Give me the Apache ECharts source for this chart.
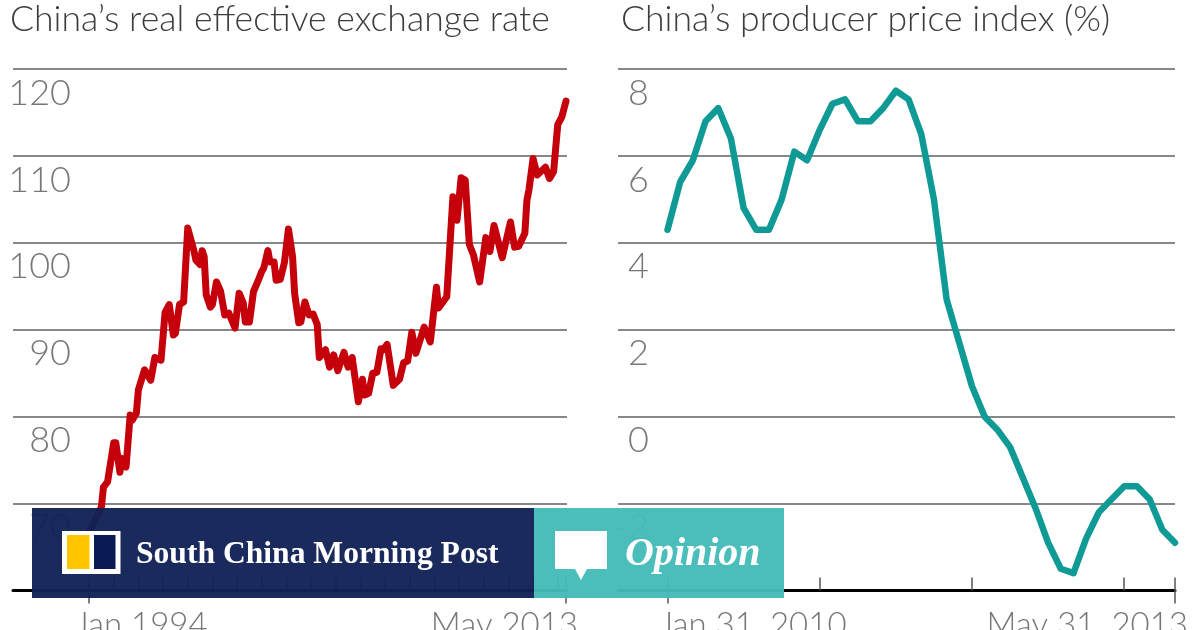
<!DOCTYPE html>
<html>
<head>
<meta charset="utf-8">
<style>
  html, body { margin: 0; padding: 0; background: #fff; }
  #chart { width: 1200px; height: 630px; }
</style>
<script src="https://cdn.jsdelivr.net/npm/echarts@6/dist/echarts.min.js"></script>
</head>
<body>
<div id="chart"></div>
<script>
// months since Jan 1994, only the turning points
const reerMonths = [0, 6, 7, 9, 12, 13, 15, 16, 18, 20, 21, 23, 24, 27, 30, 32, 35, 37, 39, 41, 42, 44, 46, 48, 51, 52, 54, 55, 56, 57, 59, 60, 62, 64, 66, 68, 71, 73, 75, 76, 78, 80, 82, 84, 85, 87, 88, 90, 91, 93, 95, 97, 99, 100, 102, 103, 105, 107, 109, 111, 112, 115, 117, 119, 121, 124, 126, 128, 131, 133, 134, 136, 138, 140, 142, 143, 145, 148, 151, 153, 155, 157, 159, 163, 166, 169, 170, 174, 177, 179, 181, 183, 185, 187, 190, 193, 195, 197, 201, 205, 207, 209, 212, 213, 214, 216, 218, 222, 224, 226, 228, 230, 232];
const reerValues = [66.7, 69.6, 71.9, 72.5, 77.0, 77.0, 73.6, 75.2, 74.2, 80.2, 79.6, 80.4, 83.1, 85.4, 84.2, 86.8, 86.5, 92.0, 92.9, 89.4, 89.6, 92.9, 93.2, 101.7, 99.1, 98.0, 97.5, 99.1, 98.4, 94.0, 92.6, 92.9, 95.5, 94.4, 91.7, 91.9, 90.2, 94.2, 93.1, 90.9, 90.9, 94.4, 95.5, 96.7, 97.1, 99.1, 97.8, 97.8, 95.7, 95.8, 97.7, 101.6, 98.4, 94.2, 90.8, 90.9, 93.2, 91.7, 91.8, 90.6, 86.8, 87.7, 85.7, 87.1, 85.3, 87.4, 85.7, 86.8, 81.7, 84.3, 82.5, 82.7, 85.0, 85.1, 87.8, 87.7, 88.3, 83.6, 84.3, 86.2, 86.4, 89.7, 87.3, 90.3, 88.6, 94.9, 92.5, 93.8, 105.3, 102.6, 107.5, 107.2, 99.8, 98.6, 95.5, 100.6, 99.0, 102.0, 98.3, 102.4, 99.5, 99.6, 101.1, 104.9, 106.1, 109.7, 107.8, 108.7, 107.4, 108.2, 113.6, 114.5, 116.3];
const reerTickMonths = [0, 12, 24, 36, 48, 60, 72, 84, 96, 108, 120, 132, 144, 156, 168, 180, 192, 204, 216, 228, 232];

// monthly, Jan 2010 to May 2013
const ppiValues = [4.3, 5.4, 5.9, 6.8, 7.1, 6.4, 4.8, 4.3, 4.3, 5.0, 6.1, 5.9, 6.6, 7.2, 7.3, 6.8, 6.8, 7.1, 7.5, 7.3, 6.5, 5.0, 2.7, 1.7, 0.7, 0.0, -0.3, -0.7, -1.4, -2.1, -2.9, -3.5, -3.6, -2.8, -2.2, -1.9, -1.6, -1.6, -1.9, -2.6, -2.9];
const ppiTickMonths = [0, 12, 24, 36, 40];

const reerFirstLabel = 'Jan 1994';
const reerLastLabel = 'May 2013';
const ppiFirstLabel = 'Jan 31, 2010';
const ppiLastLabel = 'May 31, 2013';

const leftTitle = 'China\u2019s real effective exchange rate';
const rightTitle = 'China\u2019s producer price index (%)';

const thin = 'Lato, "Open Sans", sans-serif';
const labelGrey = '#777';

function xAxisPair(gridIndex, min, max, upTicks, firstTick, lastTick, firstLabel, lastLabel, leftPad, rightPad) {
  const labelStyle = { show: true, color: labelGrey, fontFamily: thin, fontWeight: 300, fontSize: 33, verticalAlign: 'top', margin: 18 };
  return [
    {
      // short ticks going up from the axis, last label hangs off this one
      type: 'value', gridIndex: gridIndex, min: min, max: max, position: 'bottom',
      splitLine: { show: false },
      axisLine: { show: true, onZero: false, lineStyle: { color: '#000', width: 3 } },
      axisTick: { show: true, inside: true, length: 13, customValues: upTicks, lineStyle: { color: '#555', width: 1.5 } },
      axisLabel: Object.assign({}, labelStyle, {
        customValues: [lastTick], align: 'right', padding: [0, -rightPad, 0, 0],
        formatter: function () { return lastLabel; }
      })
    },
    {
      // first and last ticks also run below the axis
      type: 'value', gridIndex: gridIndex, min: min, max: max, position: 'bottom',
      splitLine: { show: false },
      axisLine: { show: false, onZero: false },
      axisTick: { show: true, inside: false, length: 13, customValues: [firstTick, lastTick], lineStyle: { color: '#555', width: 1.5 } },
      axisLabel: Object.assign({}, labelStyle, {
        customValues: [firstTick], align: 'left', padding: [0, 0, 0, -leftPad],
        formatter: function () { return firstLabel; }
      })
    }
  ];
}

function yAxis(gridIndex, min, max, interval, margin) {
  return {
    type: 'value', gridIndex: gridIndex, min: min, max: max, interval: interval,
    axisLine: { show: false },
    axisTick: { show: false },
    splitLine: { show: true, lineStyle: { color: '#888', width: 2 } },
    axisLabel: {
      inside: true, color: labelGrey, fontFamily: thin, fontWeight: 300, fontSize: 36,
      align: 'right', verticalAlign: 'top', margin: margin, padding: [6, 0, 0, 0],
      formatter: function (v) { return v === min ? '' : String(v); }
    }
  };
}

const chart = echarts.init(document.getElementById('chart'), null, { renderer: 'canvas' });

chart.setOption({
  animation: false,
  backgroundColor: '#fff',
  title: [
    { text: leftTitle, left: 5, top: -3, textStyle: { color: '#3c3c3c', fontFamily: thin, fontWeight: 300, fontSize: 35.6 } },
    { text: rightTitle, left: 616, top: -3, textStyle: { color: '#3c3c3c', fontFamily: thin, fontWeight: 300, fontSize: 35.6 } }
  ],
  grid: [
    { left: 13, top: 69, width: 554, height: 521.5, outerBoundsMode: 'none' },
    { left: 618, top: 69, width: 557, height: 521.5, outerBoundsMode: 'none' }
  ],
  xAxis: [].concat(
    xAxisPair(0, -37, 232.5, reerTickMonths, 0, 232, reerFirstLabel, reerLastLabel, 14, 12),
    xAxisPair(1, -3.9, 40, ppiTickMonths, 0, 40, ppiFirstLabel, ppiLastLabel, 8, 13)
  ),
  yAxis: [yAxis(0, 60, 120, 10, 58), yAxis(1, -4, 8, 2, 31)],
  series: [
    {
      type: 'line', xAxisIndex: 0, yAxisIndex: 0, showSymbol: false, clip: false, z: 5,
      data: reerMonths.map(function (m, i) { return [m, reerValues[i]]; }),
      lineStyle: { color: '#c5000b', width: 7, cap: 'round', join: 'round' }
    },
    {
      type: 'line', xAxisIndex: 2, yAxisIndex: 1, showSymbol: false, clip: false, z: 5,
      data: ppiValues.map(function (v, i) { return [i, v]; }),
      lineStyle: { color: '#0f9a96', width: 6.5, cap: 'round', join: 'round' }
    }
  ],
  // the newspaper's banner lies over the charts
  graphic: [
    { type: 'rect', z: 100, shape: { x: 32, y: 508, width: 502, height: 90 }, style: { fill: 'rgba(17,33,85,0.96)' } },
    { type: 'rect', z: 100, shape: { x: 534, y: 508, width: 250, height: 90 }, style: { fill: 'rgba(68,186,183,0.96)' } },
    { type: 'rect', z: 101, shape: { x: 62, y: 531, width: 58.5, height: 43 }, style: { fill: '#fff' } },
    { type: 'rect', z: 102, shape: { x: 67, y: 535, width: 22.5, height: 34 }, style: { fill: '#ffc600' } },
    { type: 'rect', z: 102, shape: { x: 94, y: 535, width: 21.5, height: 34 }, style: { fill: '#0a1a52' } },
    { type: 'text', z: 101, x: 136, y: 555, style: { text: 'South China Morning Post', fill: '#fff', font: 'bold 31.6px "Liberation Serif", serif', textVerticalAlign: 'middle' } },
    { type: 'polygon', z: 101, shape: { points: [[555, 531], [607, 531], [607, 569], [587, 569], [581, 580], [575, 569], [555, 569]] }, style: { fill: '#fff' } },
    { type: 'text', z: 101, x: 625, y: 555, style: { text: 'Opinion', fill: '#fff', font: 'italic bold 40px "Liberation Serif", serif', textVerticalAlign: 'middle' } }
  ]
});
</script>
</body>
</html>
